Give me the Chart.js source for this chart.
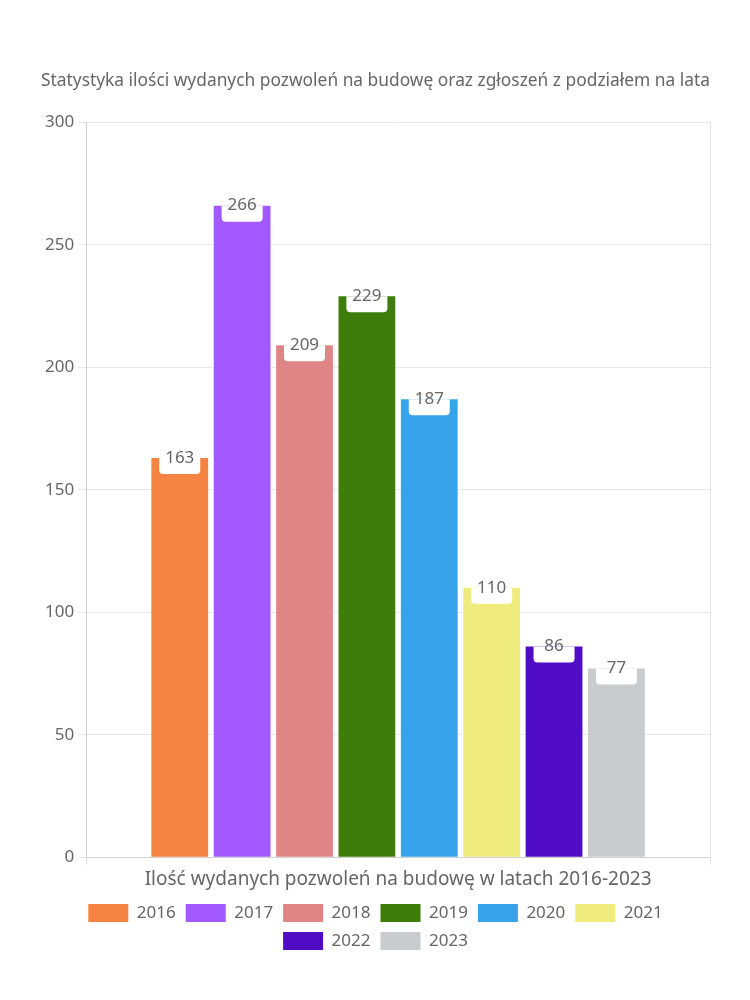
<!DOCTYPE html>
<html>
<head>
<meta charset="utf-8">
<script src="https://cdn.jsdelivr.net/npm/chart.js@4"></script>
<style>
  html, body { margin: 0; padding: 0; background: #fff; }
  #wrap { width: 750px; height: 1000px; }
</style>
</head>
<body>
<div id="wrap"><canvas id="chart" width="750" height="1000"></canvas></div>
<script>
// --- Data ---------------------------------------------------------------
const categories = ['Ilość wydanych pozwoleń na budowę w latach 2016-2023'];
const years = ['2016', '2017', '2018', '2019', '2020', '2021', '2022', '2023'];
const permits = [163, 266, 209, 229, 187, 110, 86, 77];
const colors = ['#f58442', '#a259ff', '#e08585', '#3e7d0c', '#37a3ea', '#f0eb7d', '#500bc4', '#cacbcf'];
const yTicks = [0, 50, 100, 150, 200, 250, 300];

const FONT = "'Noto Sans', sans-serif";
const TEXT = '#666666';

// White tab with the value, hanging from the top of each bar
const valueTabs = {
    id: 'valueTabs',
    afterDatasetsDraw(chart) {
        const ctx = chart.ctx;
        ctx.save();
        chart.data.datasets.forEach((ds, i) => {
            const meta = chart.getDatasetMeta(i);
            meta.data.forEach((bar, j) => {
                const w = 41, h = 16, r = 4;
                const x = bar.x - w / 2, y = bar.y;
                ctx.fillStyle = '#ffffff';
                ctx.beginPath();
                ctx.moveTo(x, y);
                ctx.lineTo(x + w, y);
                ctx.lineTo(x + w, y + h - r);
                ctx.quadraticCurveTo(x + w, y + h, x + w - r, y + h);
                ctx.lineTo(x + r, y + h);
                ctx.quadraticCurveTo(x, y + h, x, y + h - r);
                ctx.closePath();
                ctx.fill();
                ctx.fillStyle = TEXT;
                ctx.font = '17px ' + FONT;
                ctx.textAlign = 'center';
                ctx.textBaseline = 'middle';
                ctx.fillText(String(ds.data[j]), bar.x, y);
            });
        });
        ctx.restore();
    },
};

new Chart(document.getElementById('chart'), {
    type: 'bar',
    data: {
        labels: categories,
        datasets: years.map((yr, i) => ({
            label: yr,
            data: [permits[i]],
            backgroundColor: colors[i],
            borderWidth: 0,
        })),
    },
    options: {
        responsive: false,
        animation: false,
        datasets: { bar: { categoryPercentage: 0.8, barPercentage: 0.91 } },
        layout: { padding: { top: 70, left: 41, right: 40, bottom: 40 } },
        plugins: {
            title: {
                display: true,
                text: 'Statystyka ilości wydanych pozwoleń na budowę oraz zgłoszeń z podziałem na lata',
                color: TEXT,
                font: { family: FONT, size: 17.8, weight: 'normal' },
                padding: { top: 0, bottom: 31 },
            },
            legend: {
                position: 'bottom',
                labels: {
                    color: TEXT,
                    font: { family: FONT, size: 17 },
                    boxWidth: 40,
                    boxHeight: 18,
                    padding: 10,
                },
            },
            tooltip: { enabled: false },
        },
        scales: {
            x: {
                ticks: { color: TEXT, font: { family: FONT, size: 19 }, padding: 3 },
                grid: { color: '#e4e4e4', tickLength: 8 },
                border: { color: '#d0d0d0' },
            },
            y: {
                min: 0,
                max: 300,
                afterBuildTicks: (axis) => { axis.ticks = yTicks.map((v) => ({ value: v })); },
                ticks: { color: TEXT, font: { family: FONT, size: 17 }, padding: 4 },
                grid: { color: '#e8e8e8', tickLength: 8 },
                border: { color: '#d0d0d0' },
            },
        },
    },
    plugins: [valueTabs],
});
</script>
</body>
</html>
